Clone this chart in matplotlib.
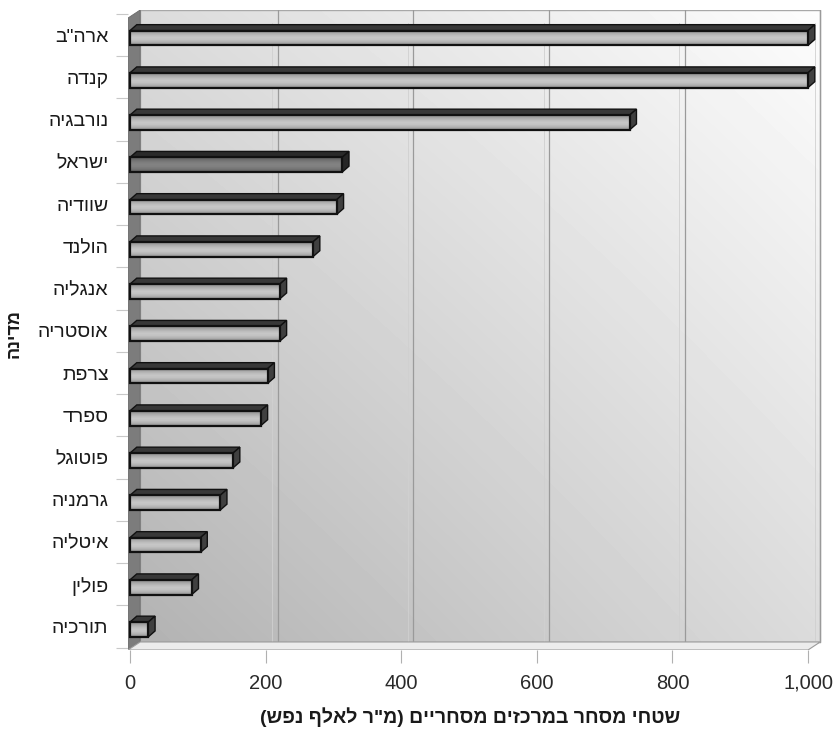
import numpy as np
import matplotlib
matplotlib.use("Agg")
import matplotlib.pyplot as plt
from matplotlib.patches import Polygon, Rectangle
from matplotlib.ticker import FuncFormatter

plt.rcParams['font.family'] = ['Liberation Sans', 'DejaVu Sans']

# Retail space in shopping centres per 1,000 residents, by country
countries = ['ארה"ב', 'קנדה', 'נורבגיה', 'ישראל', 'שוודיה', 'הולנד', 'אנגליה',
             'אוסטריה', 'צרפת', 'ספרד', 'פוטוגל', 'גרמניה', 'איטליה', 'פולין', 'תורכיה']
values = [1000, 1000, 737, 313, 305, 270, 221, 221, 203, 193, 152, 133, 104, 91, 27]
highlight = 'ישראל'
x_ticks = [0, 200, 400, 600, 800, 1000]
x_label = 'שטחי מסחר במרכזים מסחריים (מ"ר לאלף נפש)'
y_label = 'מדינה'


def visual(s):
    """Right-to-left text laid out left-to-right for drawing."""
    r = s[::-1]
    return r.translate(str.maketrans({'(': ')', ')': '('}))


W, H = 838, 741
fig = plt.figure(figsize=(W / 100, H / 100), dpi=100)

# axes geometry (pixels): front plane 0 -> 130px, 1000 -> 808px
x0, x1 = -3, 1020
y_top, y_bot = -0.592, 14.556
px_left = 130 + 0.678 * x0
px_right = 130 + 0.678 * x1
ax = fig.add_axes([px_left / W, 1 - 650 / H, (px_right - px_left) / W, 640 / H])

# 3D depth offsets in data units
wall_dx, wall_dy = 18.0, 0.19
bar_dx, bar_dy = 10.0, 0.14

# back wall with diagonal shading
back_left, back_right = x0 + wall_dx, 1000 + wall_dx
back_top, back_bot = y_top, y_bot - wall_dy
gx = np.linspace(0, 1, 200)
gy = np.linspace(0, 1, 200)
GX, GY = np.meshgrid(gx, gy)
c_tl, c_tr, c_bl, c_br = 0.86, 0.99, 0.70, 0.86
shade = (c_tl * (1 - GX) * (1 - GY) + c_tr * GX * (1 - GY)
         + c_bl * (1 - GX) * GY + c_br * GX * GY)
ax.imshow(shade, cmap='gray', vmin=0, vmax=1, aspect='auto',
          extent=(back_left, back_right, back_bot, back_top),
          interpolation='bilinear', zorder=0)
ax.add_patch(Rectangle((back_left, back_top), back_right - back_left, back_bot - back_top,
                       fill=False, edgecolor='#a8a8a8', lw=1.0, zorder=1))

# gridlines on the back wall
for v in x_ticks[1:]:
    ax.plot([v + wall_dx, v + wall_dx], [back_top, back_bot], color='#9a9a9a', lw=0.9, zorder=1)
    ax.plot([v + wall_dx - 8, v + wall_dx - 8], [back_top + 0.3, back_bot],
            color='#d0d0d0', lw=0.6, zorder=1)

# left wall
ax.add_patch(Polygon([(x0, y_top + wall_dy), (back_left, y_top), (back_left, back_bot), (x0, y_bot)],
                     closed=True, facecolor='#7c7c7c', edgecolor='#6a6a6a', lw=0.6, zorder=2))
# floor
ax.add_patch(Polygon([(x0, y_bot), (back_left, back_bot), (back_right, back_bot), (1000, y_bot)],
                     closed=True, facecolor='#ececec', edgecolor='#9c9c9c', lw=0.8, zorder=2))

# vertical shading profile for the front face of each bar
prof = np.array([0.58, 0.67, 0.74, 0.78, 0.76, 0.70, 0.60])[:, None]

face_h = 0.35
for i, (name, v) in enumerate(zip(countries, values)):
    dark = name == highlight
    top_c = '#2a2a2a' if dark else '#383838'
    cap_c = '#262626' if dark else '#404040'
    scale = 0.66 if dark else 1.0
    yc = i + 0.07
    yt = yc - face_h / 2
    yb = yc + face_h / 2
    # top face
    ax.add_patch(Polygon([(0, yt), (bar_dx, yt - bar_dy), (v + bar_dx, yt - bar_dy), (v, yt)],
                         closed=True, facecolor=top_c, edgecolor='#111111', lw=1.0, zorder=4))
    # end cap
    ax.add_patch(Polygon([(v, yt), (v + bar_dx, yt - bar_dy), (v + bar_dx, yb - bar_dy), (v, yb)],
                         closed=True, facecolor=cap_c, edgecolor='#111111', lw=1.0, zorder=4))
    # front face with shading
    ax.imshow(prof * scale, cmap='gray', vmin=0, vmax=1, aspect='auto',
              extent=(0, v, yb, yt), interpolation='bilinear', zorder=5)
    ax.barh(yc, v, height=face_h, left=0, fill=False, edgecolor='#111111',
            lw=1.6, zorder=6)

ax.set_xlim(x0, x1)
ax.set_ylim(y_bot, y_top)

ax.set_xticks(x_ticks)
ax.xaxis.set_major_formatter(FuncFormatter(lambda v, p: f'{int(v):,}'))
ax.tick_params(axis='x', length=9, width=0.8, color='#b0b0b0', pad=8,
               labelsize=14.5, labelcolor='#2a2a2a')

ax.set_yticks(range(len(countries)))
ax.set_yticklabels([visual(c) for c in countries])
ax.set_yticks(np.arange(-0.5, len(countries), 1.0), minor=True)
ax.tick_params(axis='y', which='major', length=0, pad=14, labelsize=14, labelcolor='#1a1a1a')
ax.tick_params(axis='y', which='minor', length=9, width=0.8, color='#c8c8c8')

for s in ax.spines.values():
    s.set_visible(False)

fig.text(470 / W, 1 - 717 / H, visual(x_label), ha='center', va='center',
         fontsize=14, fontweight='bold', color='#1a1a1a')
fig.text(14 / W, 1 - 333 / H, visual(y_label), ha='center', va='center', rotation=90,
         fontsize=13, fontweight='bold', color='#1a1a1a')

fig.savefig('out.png', dpi=100, facecolor='white')
